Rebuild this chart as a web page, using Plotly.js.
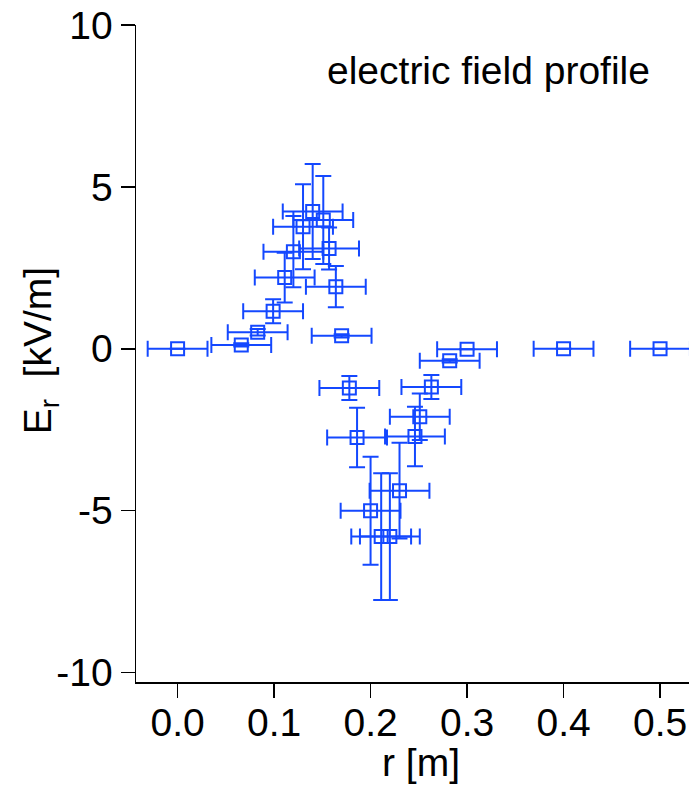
<!DOCTYPE html>
<html>
<head>
<meta charset="utf-8">
<script src="https://cdn.plot.ly/plotly-3.0.1.min.js"></script>
<style>html,body{margin:0;padding:0;background:#fff;}#chart{width:691px;height:786px;}</style>
</head>
<body>
<div id="chart"></div>
<script>
// radius [m]
const rValues = [0.000, 0.066, 0.083, 0.099, 0.111, 0.120, 0.130, 0.140, 0.151, 0.157, 0.164, 0.170, 0.178, 0.186, 0.200, 0.211, 0.220, 0.230, 0.246, 0.251, 0.263, 0.282, 0.300, 0.400, 0.500];
// radial electric field [kV/m]
const erValues = [0.00, 0.12, 0.51, 1.16, 2.20, 3.00, 3.77, 4.24, 3.98, 3.10, 1.92, 0.40, -1.21, -2.74, -5.00, -5.80, -5.80, -4.38, -2.71, -2.10, -1.18, -0.37, -0.01, 0.00, 0.00];
// errors
const rErr = [0.031, 0.031, 0.031, 0.031, 0.031, 0.031, 0.031, 0.031, 0.031, 0.031, 0.031, 0.031, 0.031, 0.031, 0.031, 0.031, 0.031, 0.031, 0.031, 0.031, 0.031, 0.031, 0.031, 0.031, 0.031];
const erErr = [0.00, 0.05, 0.10, 0.37, 0.77, 1.10, 1.31, 1.47, 1.36, 0.65, 0.64, 0.05, 0.37, 0.92, 1.67, 1.96, 1.96, 1.48, 0.92, 0.72, 0.37, 0.05, 0.00, 0.00, 0.00];

const xTickVals = [0.0, 0.1, 0.2, 0.3, 0.4, 0.5];
const xTickText = ['0.0', '0.1', '0.2', '0.3', '0.4', '0.5'];
const yTickVals = [-10, -5, 0, 5, 10];
const yTickText = ['-10', '-5', '0', '5', '10'];

const xTitle = 'r [m]';
const yTitle = 'E<sub>r</sub>  [kV/m]';
const plotTitle = 'electric field profile';

const blue = '#1448ff';
const fontFam = 'Liberation Sans, Arial, sans-serif';
const fs = 39;

const trace = {
  x: rValues,
  y: erValues,
  type: 'scatter',
  mode: 'markers',
  marker: {symbol: 'square-open', size: 13, color: blue, line: {width: 2, color: blue}},
  error_x: {type: 'data', array: rErr, visible: true, color: blue, thickness: 2, width: 8},
  error_y: {type: 'data', array: erErr, visible: true, color: blue, thickness: 2, width: 8},
  hoverinfo: 'x+y'
};

const layout = {
  width: 691,
  height: 786,
  margin: {l: 136, r: 2, t: 25, b: 104, pad: 0},
  paper_bgcolor: '#fff',
  plot_bgcolor: '#fff',
  showlegend: false,
  font: {family: fontFam, size: fs, color: '#000'},
  xaxis: {
    range: [-0.0431, 0.530],
    showgrid: false, zeroline: false,
    showline: true, linecolor: '#000', linewidth: 1.5,
    ticks: 'outside', ticklen: 14, tickwidth: 1.5, tickcolor: '#000',
    ticklabelstandoff: -8,
    tickvals: xTickVals, ticktext: xTickText,
    tickfont: {family: fontFam, size: fs, color: '#000'}
  },
  yaxis: {
    range: [-10.29, 10],
    showgrid: false, zeroline: false,
    showline: true, linecolor: '#000', linewidth: 1.5,
    ticks: 'outside', ticklen: 14, tickwidth: 1.5, tickcolor: '#000',
    tickvals: yTickVals, ticktext: yTickText,
    tickfont: {family: fontFam, size: fs, color: '#000'}
  },
  annotations: [
    {
      text: plotTitle,
      xref: 'paper', yref: 'paper',
      x: 0.638, y: 0.931,
      xanchor: 'center', yanchor: 'middle',
      showarrow: false,
      font: {family: fontFam, size: fs, color: '#000'}
    },
    {
      text: xTitle,
      xref: 'paper', yref: 'paper',
      x: 0.515, y: -0.123,
      xanchor: 'center', yanchor: 'middle',
      showarrow: false,
      font: {family: fontFam, size: fs, color: '#000'}
    },
    {
      text: yTitle,
      xref: 'paper', yref: 'paper',
      x: -0.1736, y: 0.505,
      xanchor: 'center', yanchor: 'middle',
      textangle: -90,
      showarrow: false,
      font: {family: fontFam, size: fs, color: '#000'}
    }
  ]
};

Plotly.newPlot('chart', [trace], layout, {displayModeBar: false, staticPlot: true});
</script>
</body>
</html>
